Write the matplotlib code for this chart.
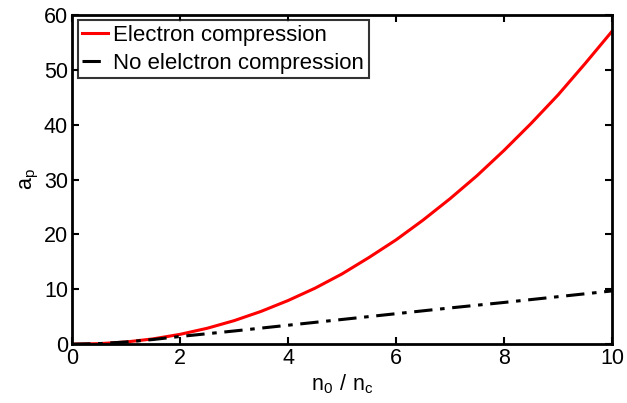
import matplotlib
matplotlib.use("Agg")
import matplotlib.pyplot as plt

plt.rcParams['font.family'] = ['Liberation Sans', 'DejaVu Sans']
plt.rcParams['mathtext.fontset'] = 'custom'
plt.rcParams['mathtext.rm'] = 'Liberation Sans'

# density ratio n0/nc
x_comp = [0, 0.5, 1, 1.5, 2, 2.5, 3, 3.5, 4, 4.5, 5, 5.5, 6, 6.5, 7, 7.5, 8, 8.5, 9, 9.5, 10]
a_comp = [0, 0.09, 0.40, 0.96, 1.79, 2.89, 4.28, 5.97, 7.95, 10.2, 12.8, 15.8, 19.0,
          22.6, 26.5, 30.7, 35.3, 40.2, 45.4, 51.1, 57.0]

x_nocomp = [0, 0.5, 1, 1.5, 2, 3, 4, 5, 6, 7, 8, 9, 10]
a_nocomp = [0, 0.1, 0.4, 0.85, 1.4, 2.4, 3.45, 4.5, 5.55, 6.6, 7.6, 8.65, 9.7]

fig = plt.figure(figsize=(6.27, 4.03), dpi=100)
ax = fig.add_axes([0.115, 0.146, 0.861, 0.817])

ax.plot(x_comp, a_comp, color='red', lw=2.2, label='Electron compression')
ax.plot(x_nocomp, a_nocomp, color='black', lw=2.2, dashes=(6, 2.5, 1.5, 2.5),
        label='No elelctron compression')

ax.set_xlim(0, 10)
ax.set_ylim(0, 60)
ax.set_xticks(range(0, 11, 2))
ax.set_yticks(range(0, 61, 10))
ax.tick_params(direction='in', length=5, width=1.5, top=True, right=True,
               labelsize=15.5, pad=3)
for s in ax.spines.values():
    s.set_linewidth(2)

ax.set_xlabel(r'$\mathregular{n_0\ /\ n_c}$', fontsize=15.5, labelpad=2)
ax.set_ylabel(r'$\mathregular{a_p}$', fontsize=15.5, labelpad=2)

leg = ax.legend(loc='upper left', fontsize=16, frameon=True, fancybox=False,
                handlelength=1.15, handletextpad=0.25, borderpad=0.2,
                labelspacing=0.3, borderaxespad=0.25)
leg.get_frame().set_edgecolor('black')
leg.get_frame().set_linewidth(1.5)

fig.savefig('out.png', dpi=100)
